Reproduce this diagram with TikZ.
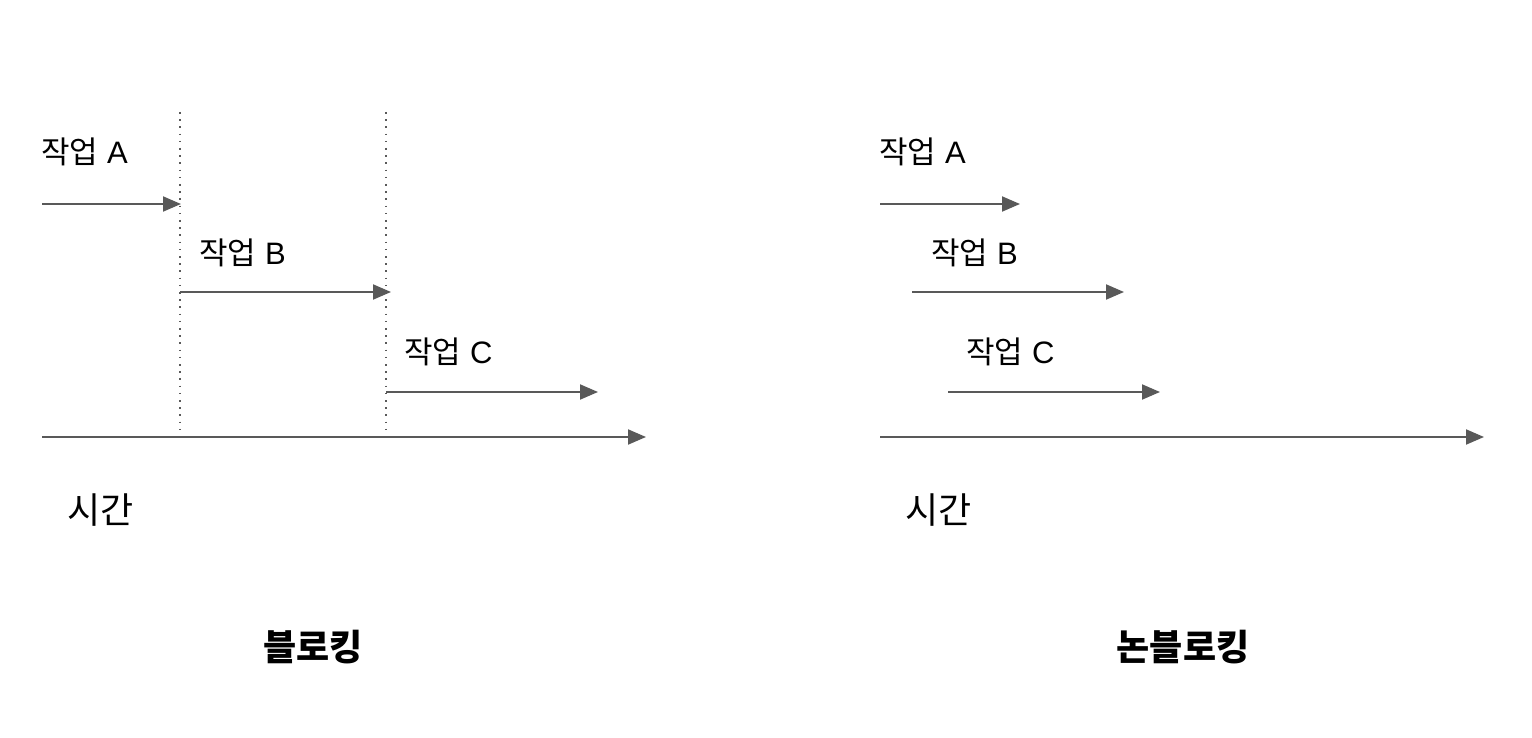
\documentclass[tikz,border=0pt]{standalone}
\usepackage{fontspec}
\setmainfont{Liberation Sans}
\newfontfamily\kr{Noto Sans CJK KR}
\usetikzlibrary{arrows.meta}
\definecolor{arrowgray}{HTML}{595959}
\begin{document}
\begin{tikzpicture}[x=0.5pt,y=-0.5pt,
  lbl/.style={anchor=west,inner sep=0pt,font=\fontsize{15.5pt}{17pt}\selectfont},
  timelbl/.style={anchor=west,inner sep=0pt,font=\kr\fontsize{18pt}{20pt}\selectfont},
  title/.style={inner sep=0pt,font=\kr\bfseries\fontsize{18pt}{20pt}\selectfont},
  flow/.style={draw=arrowgray,line width=1pt,-{Triangle[length=9pt,width=7.5pt]}},
  guide/.style={draw=arrowgray,line width=0.8pt,dash pattern=on 0.8pt off 2.8pt}]
\useasboundingbox (0,0) rectangle (1532,738);
% ---- left panel: blocking
\node[lbl] (la) at (41,152) {{\kr 작업} A};
\node[lbl] (lb) at (199,253) {{\kr 작업} B};
\node[lbl] (lc) at (404,352) {{\kr 작업} C};
\coordinate (d1t) at (180,112);
\coordinate (d1b) at (180,437);
\coordinate (d2t) at (386,112);
\coordinate (d2b) at (386,437);
\draw[guide] (d1t) -- (d1b);
\draw[guide] (d2t) -- (d2b);
\coordinate (a1s) at (42,204);
\coordinate (a1e) at (181,204);
\coordinate (b1s) at (180,292);
\coordinate (b1e) at (391,292);
\coordinate (c1s) at (386,392);
\coordinate (c1e) at (598,392);
\coordinate (t1s) at (42,437);
\coordinate (t1e) at (646,437);
\draw[flow] (a1s) -- (a1e);
\draw[flow] (b1s) -- (b1e);
\draw[flow] (c1s) -- (c1e);
\draw[flow] (t1s) -- (t1e);
\node[timelbl] (time1) at (67,510) {시간};
\node[title] (blk) at (313,647) {블로킹};
% ---- right panel: non-blocking
\node[lbl] (ra) at (879,152) {{\kr 작업} A};
\node[lbl] (rb) at (931,253) {{\kr 작업} B};
\node[lbl] (rc) at (966,352) {{\kr 작업} C};
\coordinate (a2s) at (880,204);
\coordinate (a2e) at (1020,204);
\coordinate (b2s) at (912,292);
\coordinate (b2e) at (1124,292);
\coordinate (c2s) at (948,392);
\coordinate (c2e) at (1160,392);
\coordinate (t2s) at (880,437);
\coordinate (t2e) at (1484,437);
\draw[flow] (a2s) -- (a2e);
\draw[flow] (b2s) -- (b2e);
\draw[flow] (c2s) -- (c2e);
\draw[flow] (t2s) -- (t2e);
\node[timelbl] (time2) at (905,510) {시간};
\node[title] (nblk) at (1183,647) {논블로킹};
\end{tikzpicture}
\end{document}
